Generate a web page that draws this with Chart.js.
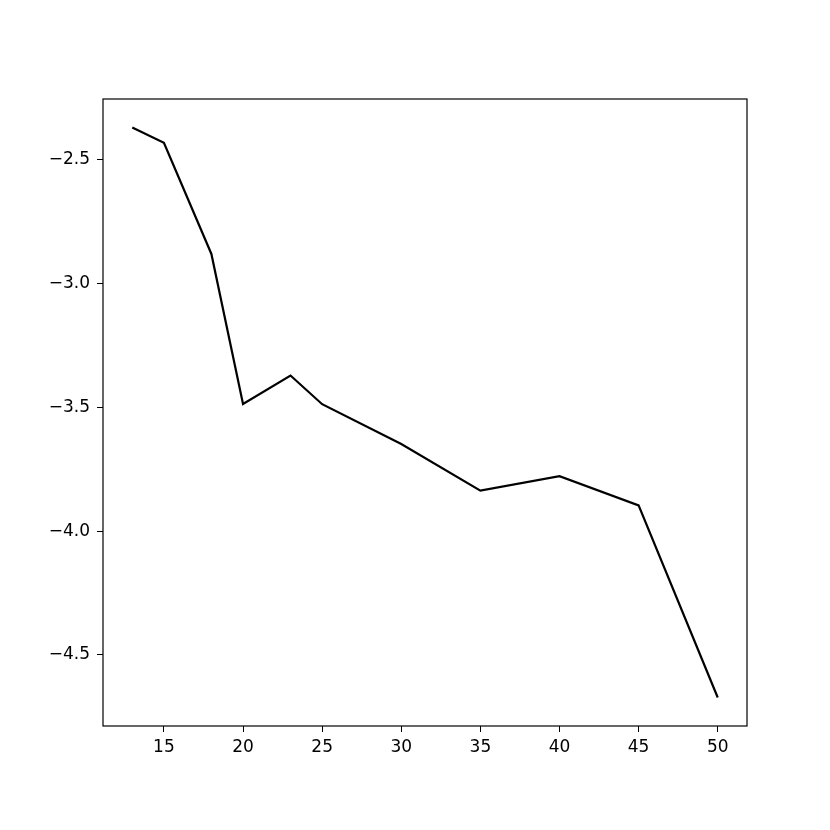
<!DOCTYPE html>
<html>
<head>
<meta charset="utf-8">
<script src="https://cdn.jsdelivr.net/npm/chart.js@4/dist/chart.umd.min.js"></script>
<style>
html,body{margin:0;padding:0;background:#fff;}
#wrap{width:830px;height:830px;}
</style>
</head>
<body>
<div id="wrap"><canvas id="c" width="830" height="830"></canvas></div>
<script>
const xValues = [13, 15, 18, 20, 23, 25, 30, 35, 40, 45, 50];
const yValues = [-2.369, -2.431, -2.880, -3.486, -3.371, -3.487, -3.648, -3.836, -3.778, -3.896, -4.672];
const xTicks = [15, 20, 25, 30, 35, 40, 45, 50];
const yTicks = [-2.5, -3.0, -3.5, -4.0, -4.5];

const frame = {
  id: 'frame',
  afterDraw(chart) {
    const a = chart.chartArea, ctx = chart.ctx;
    ctx.save();
    ctx.strokeStyle = '#000';
    ctx.lineWidth = 1.2;
    ctx.strokeRect(a.left, a.top, a.right - a.left, a.bottom - a.top);
    ctx.restore();
  }
};

new Chart(document.getElementById('c'), {
  type: 'line',
  data: {
    datasets: [{
      data: xValues.map((x, i) => ({x: x, y: yValues[i]})),
      borderColor: '#000',
      borderWidth: 2.2,
      pointRadius: 0,
      tension: 0,
      fill: false
    }]
  },
  options: {
    responsive: false,
    animation: false,
    devicePixelRatio: 1,
    layout: {padding: {top: 99, right: 83, left: 0, bottom: 0}},
    plugins: {legend: {display: false}, tooltip: {enabled: false}},
    scales: {
      x: {
        type: 'linear',
        min: 11.15, max: 51.85,
        afterBuildTicks: s => { s.ticks = xTicks.map(v => ({value: v})); },
        afterFit: s => { s.height = 104; },
        grid: {drawOnChartArea: false, color: '#000', tickLength: 6, tickWidth: 1},
        border: {display: false},
        ticks: {
          color: '#000', padding: 5, maxRotation: 0, autoSkip: false,
          font: {family: 'DejaVu Sans', size: 17},
          callback: v => String(v)
        }
      },
      y: {
        type: 'linear',
        min: -4.787, max: -2.254,
        afterBuildTicks: s => { s.ticks = yTicks.map(v => ({value: v})); },
        afterFit: s => { s.width = 103; },
        grid: {drawOnChartArea: false, color: '#000', tickLength: 6, tickWidth: 1},
        border: {display: false},
        ticks: {
          color: '#000', padding: 7, autoSkip: false,
          font: {family: 'DejaVu Sans', size: 17},
          callback: v => (v < 0 ? '\u2212' : '') + Math.abs(v).toFixed(1)
        }
      }
    }
  },
  plugins: [frame]
});
</script>
</body>
</html>
